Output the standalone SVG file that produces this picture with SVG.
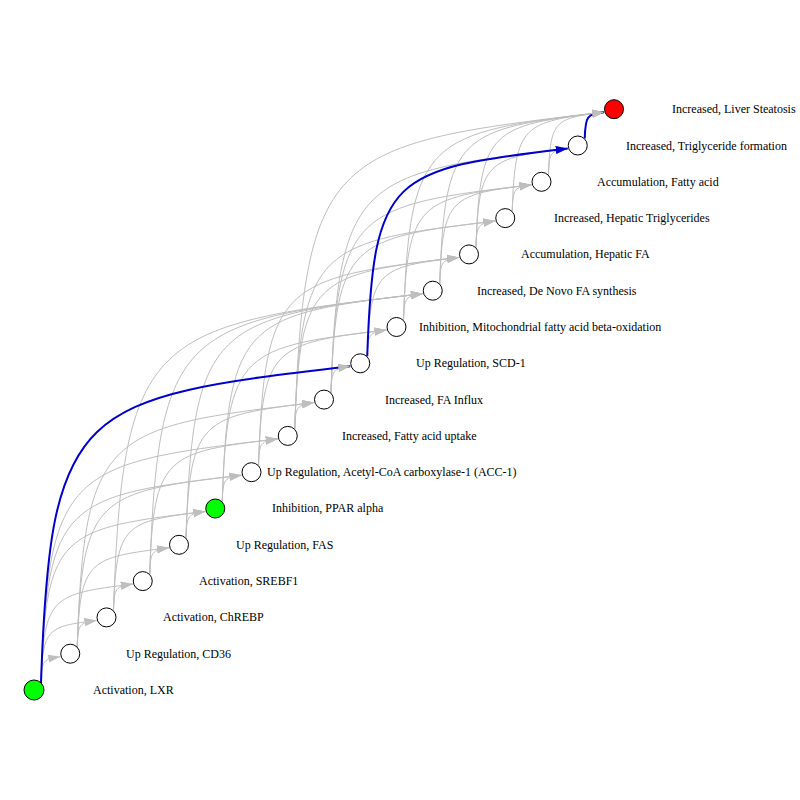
<svg xmlns="http://www.w3.org/2000/svg" xmlns:xlink="http://www.w3.org/1999/xlink" width="800" height="800" viewBox="0 0 800 800">
<style>
.g{fill:none;stroke:#BEBEBE;stroke-width:1;marker-end:url(#ag)}
.b{fill:none;stroke:#0000CD;stroke-width:2;marker-end:url(#ag)}
.bb{fill:none;stroke:#0000CD;stroke-width:2;marker-end:url(#ab)}
.n{stroke:#000;stroke-width:1;fill:#fff}
.mie{fill:#00FF00}
.ao{fill:#FF0000}
text{font-family:"Liberation Serif","Times New Roman",serif;font-size:12px;fill:#000}
</style>
<defs>
<marker id="ag" markerUnits="userSpaceOnUse" markerWidth="14" markerHeight="10" refX="12" refY="5" orient="auto"><path d="M0,1 L12,5 L0,9 z" fill="#BEBEBE"/></marker>
<marker id="ab" markerUnits="userSpaceOnUse" markerWidth="14" markerHeight="10" refX="12" refY="5" orient="auto"><path d="M0,1 L12,5 L0,9 z" fill="#0000CD"/></marker>
<path id="k1" d="M41,683 C41.58,659.86 43.31,659.33 60.25,656.7"/>
<path id="k2" d="M41,683 C42.67,627.91 47.66,626.66 96.5,620.4"/>
<path id="k3" d="M41,683 C43.75,595.97 52.01,593.99 132.75,584.1"/>
<path id="k4" d="M41,683 C44.84,564.02 56.36,561.32 169,547.8"/>
<path id="k5" d="M41,683 C45.93,532.08 60.71,528.65 205.25,511.5"/>
<path id="k6" d="M41,683 C47.02,500.14 65.06,495.98 241.5,475.2"/>
<path id="k7" d="M41,683 C48.10,468.19 69.41,463.31 277.75,438.9"/>
<path id="k8" d="M41,683 C49.19,436.25 73.76,430.64 314,402.6"/>
<path id="k9" d="M41,683 C50.28,404.30 78.11,397.97 350.25,366.3"/>
</defs>
<rect width="800" height="800" fill="#fff"/>
<g id="connectors">
<!-- from 1 -->
<use class="g" href="#k1" x="0" y="0"/>
<use class="g" href="#k2" x="0" y="0"/>
<use class="g" href="#k3" x="0" y="0"/>
<use class="g" href="#k5" x="0" y="0"/>
<use class="g" href="#k6" x="0" y="0"/>
<use class="g" href="#k7" x="0" y="0"/>
<!-- from 2 -->
<use class="g" href="#k1" x="36.25" y="-36.3"/>
<use class="g" href="#k3" x="36.25" y="-36.3"/>
<use class="g" href="#k5" x="36.25" y="-36.3"/>
<use class="g" href="#k7" x="36.25" y="-36.3"/>
<!-- from 3 -->
<use class="g" href="#k1" x="72.5" y="-72.6"/>
<use class="g" href="#k3" x="72.5" y="-72.6"/>
<use class="g" href="#k9" x="72.5" y="-72.6"/>
<!-- from 4 -->
<use class="g" href="#k1" x="108.75" y="-108.9"/>
<use class="g" href="#k4" x="108.75" y="-108.9"/>
<use class="g" href="#k8" x="108.75" y="-108.9"/>
<!-- from 5 -->
<use class="g" href="#k1" x="145" y="-145.2"/>
<use class="g" href="#k4" x="145" y="-145.2"/>
<use class="g" href="#k7" x="145" y="-145.2"/>
<!-- from 6 -->
<use class="g" href="#k1" x="181.25" y="-181.5"/>
<use class="g" href="#k5" x="181.25" y="-181.5"/>
<use class="g" href="#k6" x="181.25" y="-181.5"/>
<!-- from 7 -->
<use class="g" href="#k1" x="217.5" y="-217.8"/>
<use class="g" href="#k4" x="217.5" y="-217.8"/>
<use class="g" href="#k6" x="217.5" y="-217.8"/>
<!-- from 8 -->
<use class="g" href="#k1" x="253.75" y="-254.1"/>
<use class="g" href="#k5" x="253.75" y="-254.1"/>
<use class="g" href="#k6" x="253.75" y="-254.1"/>
<use class="g" href="#k9" x="253.75" y="-254.1"/>
<!-- from 9 -->
<use class="g" href="#k1" x="290" y="-290.4"/>
<use class="g" href="#k5" x="290" y="-290.4"/>
<use class="g" href="#k6" x="290" y="-290.4"/>
<use class="g" href="#k7" x="290" y="-290.4"/>
<!-- from 10 -->
<use class="g" href="#k1" x="326.25" y="-326.7"/>
<use class="g" href="#k3" x="326.25" y="-326.7"/>
<!-- from 11 -->
<use class="g" href="#k1" x="362.5" y="-363"/>
<use class="g" href="#k4" x="362.5" y="-363"/>
<use class="g" href="#k6" x="362.5" y="-363"/>
<!-- from 12 -->
<use class="g" href="#k1" x="398.75" y="-399.3"/>
<use class="g" href="#k3" x="398.75" y="-399.3"/>
<use class="g" href="#k5" x="398.75" y="-399.3"/>
<!-- from 13 -->
<use class="g" href="#k1" x="435" y="-435.6"/>
<use class="g" href="#k3" x="435" y="-435.6"/>
<use class="g" href="#k4" x="435" y="-435.6"/>
<!-- from 14 -->
<use class="g" href="#k1" x="471.25" y="-471.9"/>
<use class="g" href="#k3" x="471.25" y="-471.9"/>
<!-- from 15 -->
<use class="g" href="#k1" x="507.5" y="-508.2"/>
<use class="g" href="#k2" x="507.5" y="-508.2"/>
<!-- highlighted path -->
<use class="b" href="#k9" x="0" y="0"/>
<use class="bb" href="#k6" x="326.25" y="-326.7"/>
<use class="b" href="#k1" x="543.75" y="-544.5"/>
</g>
<g id="n1"><circle class="n mie" cx="34" cy="690" r="10"/><text x="93" y="694">Activation, LXR</text></g>
<g id="n2"><circle class="n" cx="70.25" cy="653.7" r="9.5"/><text x="126" y="658">Up Regulation, CD36</text></g>
<g id="n3"><circle class="n" cx="106.5" cy="617.4" r="9.5"/><text x="163" y="621">Activation, ChREBP</text></g>
<g id="n4"><circle class="n" cx="142.75" cy="581.1" r="9.5"/><text x="199" y="585">Activation, SREBF1</text></g>
<g id="n5"><circle class="n" cx="179" cy="544.8" r="9.5"/><text x="236" y="549">Up Regulation, FAS</text></g>
<g id="n6"><circle class="n mie" cx="215.25" cy="508.5" r="9.5"/><text x="272" y="512">Inhibition, PPAR alpha</text></g>
<g id="n7"><circle class="n" cx="251.5" cy="472.2" r="9.5"/><text x="267" y="476">Up Regulation, Acetyl-CoA carboxylase-1 (ACC-1)</text></g>
<g id="n8"><circle class="n" cx="287.75" cy="435.9" r="9.5"/><text x="342" y="440">Increased, Fatty acid uptake</text></g>
<g id="n9"><circle class="n" cx="324" cy="399.6" r="9.5"/><text x="385" y="404">Increased, FA Influx</text></g>
<g id="n10"><circle class="n" cx="360.25" cy="363.3" r="9.5"/><text x="416" y="367">Up Regulation, SCD-1</text></g>
<g id="n11"><circle class="n" cx="396.5" cy="327" r="9.5"/><text x="419" y="331">Inhibition, Mitochondrial fatty acid beta-oxidation</text></g>
<g id="n12"><circle class="n" cx="432.75" cy="290.7" r="9.5"/><text x="477" y="295">Increased, De Novo FA synthesis</text></g>
<g id="n13"><circle class="n" cx="469" cy="254.4" r="9.5"/><text x="521" y="258">Accumulation, Hepatic FA</text></g>
<g id="n14"><circle class="n" cx="505.25" cy="218.1" r="9.5"/><text x="554" y="222">Increased, Hepatic Triglycerides</text></g>
<g id="n15"><circle class="n" cx="541.5" cy="181.8" r="9.5"/><text x="597" y="186">Accumulation, Fatty acid</text></g>
<g id="n16"><circle class="n" cx="577.75" cy="145.5" r="9.5"/><text x="626" y="150">Increased, Triglyceride formation</text></g>
<g id="n17"><circle class="n ao" cx="614" cy="109.2" r="9.5"/><text x="672" y="113">Increased, Liver Steatosis</text></g>
</svg>
